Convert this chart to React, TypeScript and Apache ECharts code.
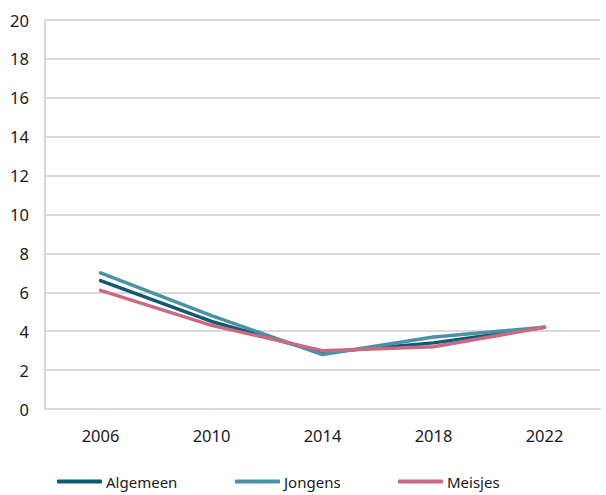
import React, { useEffect, useRef } from "react";
import * as echarts from "echarts";

const years = ["2006", "2010", "2014", "2018", "2022"];
const algemeen = [6.6, 4.5, 2.9, 3.4, 4.2];
const jongens = [7.0, 4.8, 2.8, 3.7, 4.2];
const meisjes = [6.1, 4.3, 3.0, 3.2, 4.2];

const colors = { Algemeen: "#0d5a74", Jongens: "#4b91a6", Meisjes: "#cc6982" };
const font = "'Noto Sans', 'Open Sans', sans-serif";

export default function App() {
  const ref = useRef<HTMLDivElement>(null);
  useEffect(() => {
    const chart = echarts.init(ref.current!, null, { renderer: "svg" });
    const mkLegend = (name: string, left: number) => ({
      data: [name],
      left,
      top: 474,
      padding: 0,
      itemWidth: 45,
      itemHeight: 4,
      itemGap: 0,
      icon: "roundRect",
      textStyle: { fontFamily: font, fontSize: 15, color: "#1a1a1a", padding: [0, 0, 0, -1] },
    });
    const mkSeries = (name: keyof typeof colors, data: number[]) => ({
      name,
      type: "line",
      data,
      symbol: "none",
      lineStyle: { width: 3.5, color: colors[name], cap: "round" },
      itemStyle: { color: colors[name] },
    });
    chart.setOption({
      animation: false,
      grid: { left: 45, right: 6, top: 20, bottom: 86 },
      legend: [mkLegend("Algemeen", 57), mkLegend("Jongens", 235), mkLegend("Meisjes", 398)],
      xAxis: {
        type: "category",
        data: years,
        boundaryGap: true,
        axisLine: { show: true, lineStyle: { color: "#d9d9d9", width: 2 } },
        axisTick: { show: false },
        axisLabel: { fontFamily: font, fontSize: 16.5, color: "#1a1a1a", margin: 18 },
      },
      yAxis: {
        type: "value",
        min: 0,
        max: 20,
        interval: 2,
        axisLine: { show: true, lineStyle: { color: "#d9d9d9", width: 2 } },
        axisTick: { show: false },
        splitLine: { lineStyle: { color: "#d9d9d9", width: 2 } },
        axisLabel: { fontFamily: font, fontSize: 16.5, color: "#1a1a1a", margin: 16 },
      },
      series: [mkSeries("Algemeen", algemeen), mkSeries("Jongens", jongens), mkSeries("Meisjes", meisjes)],
    });
    return () => chart.dispose();
  }, []);
  return <div ref={ref} style={{ width: 606, height: 495, position: "absolute", left: 0, top: 0 }} />;
}
